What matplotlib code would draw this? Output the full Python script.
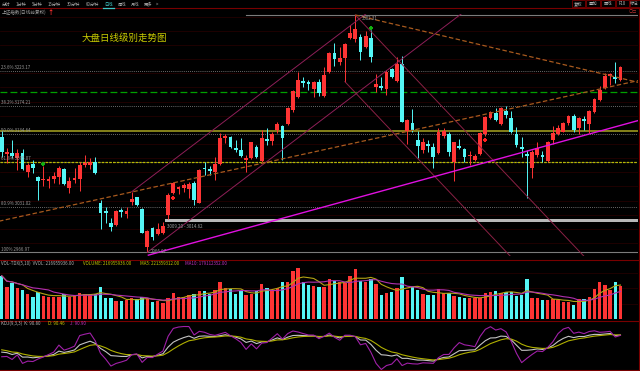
import numpy as np
import pandas as pd
import matplotlib
matplotlib.use("Agg")
import matplotlib.pyplot as plt
from matplotlib.patches import Rectangle

plt.rcParams['font.family'] = ['Noto Sans CJK SC', 'DejaVu Sans']

# ---- daily candles of the index ----
opens = [3130.3, 3105.9, 3107.7, 3099.8, 3106.9, 3080.9, 3091.8, 3073.0, 3068.7, 3068.2,
         3071.0, 3073.8, 3084.3, 3057.4, 3069.2, 3070.6, 3090.4, 3090.4, 3095.0, 3037.1,
         3025.8, 3008.8, 3005.6, 3026.8, 3021.1, 3038.5, 3044.7, 3027.8, 2974.9, 3000.9,
         2992.4, 2993.8, 3019.7, 3051.2, 3056.4, 3058.3, 3056.4, 3064.5, 3037.1, 3085.7,
         3084.3, 3080.9, 3091.3, 3128.1, 3130.3, 3114.0, 3111.5, 3097.4, 3100.7, 3116.2,
         3096.4, 3127.1, 3124.3, 3139.8, 3145.9, 3148.3, 3168.1, 3186.9, 3209.5, 3207.2,
         3197.7, 3207.2, 3188.3, 3221.3, 3248.2, 3236.3, 3241.1, 3269.4, 3268.4, 3271.6,
         3256.7, 3270.2, 3201.0, 3202.4, 3197.7, 3226.0, 3209.0, 3233.1, 3138.4, 3149.3,
         3125.7, 3111.5, 3120.0, 3115.4, 3106.9, 3131.8, 3134.2, 3095.0, 3117.2, 3113.0,
         3102.4, 3097.0, 3105.5, 3133.7, 3157.2, 3163.4, 3147.9, 3166.7, 3156.3, 3133.7,
         3115.8, 3105.5, 3086.5, 3104.5, 3104.5, 3096.0, 3125.7, 3133.7, 3137.4, 3149.3,
         3160.0, 3143.1, 3154.9, 3147.9, 3164.8, 3182.2, 3198.7, 3216.1, 3215.1, 3210.5]
closes = [3109.1, 3109.1, 3103.1, 3107.7, 3084.3, 3090.4, 3085.7, 3068.2, 3070.1, 3070.6,
          3074.8, 3085.7, 3063.1, 3068.2, 3071.6, 3090.4, 3092.8, 3095.0, 3078.6, 3022.1,
          3023.0, 3003.2, 3025.4, 3023.5, 3025.8, 3042.3, 3033.8, 2994.7, 2997.5, 2988.6,
          2999.5, 3004.2, 3048.0, 3065.3, 3058.8, 3061.7, 3063.5, 3040.9, 3083.3, 3084.3,
          3082.3, 3091.3, 3128.1, 3131.8, 3116.2, 3111.5, 3103.5, 3100.7, 3122.4, 3102.1,
          3128.1, 3124.3, 3133.7, 3147.9, 3128.1, 3171.3, 3194.9, 3210.5, 3206.6, 3204.8,
          3208.1, 3191.7, 3217.5, 3248.2, 3240.1, 3242.0, 3260.9, 3276.4, 3282.5, 3250.4,
          3273.1, 3243.4, 3204.8, 3199.6, 3221.3, 3215.1, 3232.6, 3151.5, 3153.9, 3139.8,
          3117.6, 3123.3, 3117.6, 3102.1, 3136.6, 3138.4, 3109.1, 3122.4, 3114.8, 3102.1,
          3104.5, 3103.5, 3135.1, 3158.6, 3164.8, 3153.9, 3170.5, 3161.0, 3136.6, 3118.6,
          3112.5, 3103.1, 3108.3, 3114.0, 3101.2, 3122.4, 3135.1, 3142.2, 3149.3, 3159.6,
          3139.8, 3157.2, 3152.5, 3166.7, 3183.6, 3196.3, 3216.5, 3218.5, 3211.9, 3229.3]
highs = [3138.8, 3114.4, 3125.7, 3112.5, 3112.5, 3093.2, 3097.4, 3074.8, 3088.9, 3075.2,
         3080.9, 3088.9, 3085.7, 3073.0, 3085.7, 3095.0, 3104.5, 3099.8, 3101.2, 3040.9,
         3030.6, 3015.0, 3026.8, 3029.2, 3030.6, 3052.6, 3045.6, 3029.2, 2998.5, 3002.7,
         3008.0, 3009.2, 3050.8, 3066.8, 3060.7, 3064.5, 3066.8, 3068.2, 3084.3, 3095.0,
         3088.9, 3101.2, 3135.1, 3133.7, 3131.8, 3125.7, 3128.1, 3104.5, 3123.3, 3118.6,
         3139.8, 3142.2, 3137.4, 3151.5, 3146.9, 3172.7, 3196.3, 3222.2, 3215.1, 3210.5,
         3209.0, 3211.9, 3229.3, 3249.6, 3262.3, 3257.5, 3262.3, 3288.2, 3302.31, 3275.0,
         3279.7, 3281.1, 3218.9, 3215.1, 3224.6, 3227.8, 3243.4, 3244.8, 3155.4, 3169.5,
         3138.4, 3128.1, 3125.7, 3121.0, 3142.2, 3143.1, 3137.4, 3123.3, 3127.1, 3114.8,
         3110.1, 3105.5, 3136.6, 3159.6, 3166.7, 3171.3, 3172.7, 3174.1, 3166.7, 3144.5,
         3130.3, 3111.5, 3111.5, 3122.4, 3110.1, 3124.3, 3145.9, 3146.9, 3150.7, 3161.0,
         3162.0, 3158.6, 3160.0, 3168.1, 3185.4, 3202.4, 3219.9, 3219.9, 3236.3, 3230.7]
lows = [3102.1, 3093.2, 3099.8, 3083.3, 3083.3, 3073.8, 3079.5, 3040.9, 3060.7, 3057.4,
        3064.9, 3063.5, 3062.1, 3050.4, 3064.5, 3054.0, 3088.0, 3084.3, 3077.6, 2999.5,
        3008.8, 2997.5, 3004.2, 3016.5, 3015.0, 3033.8, 3032.4, 2993.8, 2966.97, 2984.4,
        2991.4, 2992.9, 3014.6, 3050.1, 3049.4, 3052.6, 3043.3, 3033.8, 3036.2, 3076.2,
        3076.2, 3069.2, 3090.4, 3121.0, 3114.8, 3109.1, 3102.1, 3080.9, 3098.8, 3099.8,
        3095.0, 3118.6, 3118.6, 3135.1, 3097.4, 3146.9, 3165.7, 3185.4, 3201.0, 3196.3,
        3186.9, 3188.3, 3186.9, 3219.9, 3230.7, 3231.7, 3208.1, 3268.4, 3264.6, 3238.7,
        3255.3, 3235.5, 3193.9, 3196.3, 3189.3, 3212.9, 3208.1, 3150.7, 3119.6, 3137.4,
        3100.7, 3106.9, 3109.1, 3085.7, 3105.5, 3128.1, 3103.5, 3067.7, 3113.0, 3094.2,
        3090.4, 3096.0, 3104.5, 3131.8, 3155.4, 3152.5, 3146.9, 3156.3, 3135.1, 3116.2,
        3102.1, 3043.3, 3072.4, 3102.1, 3095.0, 3095.0, 3119.6, 3132.7, 3136.6, 3146.9,
        3136.6, 3133.7, 3139.8, 3135.1, 3163.4, 3180.8, 3197.7, 3203.4, 3205.8, 3209.0]
# volume in units of 1e8
volumes = [2.82, 2.10, 2.32, 2.00, 1.89, 1.61, 1.45, 1.74, 1.52, 1.45,
           1.45, 1.45, 1.61, 1.45, 1.56, 1.71, 1.61, 1.61, 1.61, 2.06,
           1.39, 1.39, 1.17, 1.17, 1.24, 1.39, 1.28, 1.45, 1.28, 1.09,
           1.17, 1.02, 1.39, 1.71, 1.45, 1.45, 1.56, 1.61, 1.82, 1.82,
           1.61, 1.89, 2.43, 2.00, 1.93, 1.61, 1.82, 1.56, 1.61, 1.82,
           2.26, 2.00, 1.89, 2.00, 2.43, 2.43, 3.12, 3.30, 2.39, 2.21,
           2.17, 2.10, 2.10, 2.60, 2.50, 2.39, 2.32, 2.82, 3.26, 2.47,
           2.39, 2.60, 2.26, 1.56, 1.67, 1.74, 2.04, 2.76, 1.89, 2.06,
           1.89, 1.61, 1.56, 1.56, 1.93, 1.67, 1.67, 1.52, 1.41, 1.39,
           1.35, 1.35, 1.39, 1.67, 1.74, 1.84, 1.71, 1.78, 1.78, 1.52,
           1.56, 2.60, 1.35, 1.35, 1.24, 1.24, 1.30, 1.24, 1.13, 1.13,
           0.91, 1.30, 1.30, 1.45, 1.95, 2.39, 2.21, 1.89, 2.39, 2.17]

# fibonacci retracement from the swing high / low
fib_high = 3302.31
fib_low = 2966.97
fib_levels = [0.0, 0.236, 0.382, 0.5, 0.618, 0.809, 1.0]

# drawing tools: (bar index, price) anchors
up_channel = [(28, 2966.97), (88.1, 3302.3)]
up_channel_top_anchor = 25          # parallel line through this bar's high
down_channel = [(68, 3302.31), (112, 2961.3)]
down_channel_low_anchor = 66        # parallel line through this bar's low
orange_up = [(0, 3011.8), (119, 3204.1)]
orange_down = [(68, 3302.31), (119, 3213.1)]
magenta_line = [(28.2, 2963.0), (119, 3146.3)]
gap_band = (31.4, 3009.20, 3014.62)
green_level = 3193.9
olive_level = 3138.8
yellow_level = 3094.6
buy_marks = [33, 93]
sell_marks = [8, 71]

RED = '#ff3434'
CYAN = '#54f6f6'

opens, closes = np.array(opens), np.array(closes)
highs, lows = np.array(highs), np.array(lows)
volumes = np.array(volumes)
n = len(closes)
idx = np.arange(n)
up = closes >= opens
colors = np.where(up, RED, CYAN)

W, H = 640, 371
fig = plt.figure(figsize=(6.4, 3.71), dpi=100, facecolor='black')


def rect(x0, y0, x1, y1):
    return [x0 / W, 1 - y1 / H, (x1 - x0) / W, (y1 - y0) / H]


xlim = (-0.33, 122.37)
ax = fig.add_axes(rect(0, 14, 638, 256))
axv = fig.add_axes(rect(0, 260, 638, 320))
axk = fig.add_axes(rect(0, 321, 638, 370))
for a in (ax, axv, axk):
    a.set_xlim(*xlim)
    a.axis('off')
ax.set_ylim(2961.8, 3303.7)

# faint grid
for p in np.arange(2980, 3301, 20):
    ax.axhline(p, color='#2a0000', lw=0.5, zorder=0)

# fibonacci lines
rng = fib_high - fib_low
for lv in fib_levels:
    p = fib_high - lv * rng
    if lv in (0.0, 1.0):
        x0 = 47 if lv == 0.0 else xlim[0]
        ax.plot([x0, xlim[1]], [p, p], color='#7c7c7c', lw=0.8, zorder=1)
    else:
        ax.axhline(p, color='#8c8c8c', lw=0.6, ls=(0, (1, 1.5)), zorder=1)
    if lv > 0:
        pct = '100%' if lv == 1.0 else f'{lv * 100:.1f}%'
        ax.text(xlim[0] + 0.25, p + 1.0, f'{pct} {p:.2f}', color='#9a9a9a',
                fontsize=3.2, va='bottom', ha='left', zorder=6)

ax.axhline(green_level, color='#00a000', lw=0.9, ls=(0, (5.5, 2.5)), zorder=1)
ax.axhline(olive_level, color='#8e8c1c', lw=1.3, zorder=1)
ax.axhline(yellow_level, color='#b8b800', lw=0.9, ls=(0, (2, 1)), zorder=1)

# gap band
gx, glo, ghi = gap_band
ax.fill_between([gx, xlim[1]], glo, ghi, color='#b8b8b8', lw=0, zorder=2)
ax.text(gx + 0.4, glo - 2.5, f'{glo:.2f} - {ghi:.2f}', color='#a0a0a0',
        fontsize=3.2, va='top', ha='left', zorder=6)


def line_through(p0, p1, start, **kw):
    slope = (p1[1] - p0[1]) / (p1[0] - p0[0])
    xs = np.array([start, xlim[1] + 1])
    ax.plot(xs, p0[1] + slope * (xs - p0[0]), **kw)
    return slope


def parallel(slope, anchor, **kw):
    xs = np.array([anchor[0], xlim[1] + 1])
    ax.plot(xs, anchor[1] + slope * (xs - anchor[0]), **kw)


chan_kw = dict(color='#8e1f58', lw=0.7, zorder=5)
s = line_through(*up_channel, up_channel[0][0], **chan_kw)
parallel(s, (up_channel_top_anchor, highs[up_channel_top_anchor]), **chan_kw)
dchan_kw = dict(color='#8a2145', lw=0.7, zorder=5)
s = line_through(*down_channel, down_channel[0][0], **dchan_kw)
parallel(s, (down_channel_low_anchor, lows[down_channel_low_anchor]), **dchan_kw)

orange_kw = dict(color='#a85a1e', lw=0.9, ls=(0, (3.6, 1.9)), zorder=5)
line_through(*orange_up, xlim[0] - 1, **orange_kw)
line_through(*orange_down, orange_down[0][0], **orange_kw)
line_through(*magenta_line, magenta_line[0][0], color='#e010e0', lw=1.0, zorder=5)

# candles
ax.vlines(idx, lows, highs, colors=colors, lw=0.7, zorder=3)
body_bottom = np.minimum(opens, closes)
body_h = np.maximum(np.abs(closes - opens), 0.9)
ax.bar(idx, body_h, bottom=body_bottom, width=0.74, color=colors, linewidth=0, zorder=4)

# signal markers
ax.scatter(np.array(sell_marks), highs[sell_marks] + 3, marker='P', s=7,
           color='#10b010', lw=0, zorder=6)
ax.scatter(np.array(buy_marks), lows[buy_marks] - 6, marker='P', s=7,
           color='#ff2020', lw=0, zorder=6)

peak = int(np.argmax(highs))
trough = int(np.argmin(lows))
ax.text(peak + 1.2, highs[peak] - 5, f'{highs[peak]:.2f}', color='#a0a0a0',
        fontsize=3.2, va='center', ha='left', zorder=6)
ax.text(trough + 0.6, lows[trough] + 1, f'{lows[trough]:.2f}', color='#a0a0a0',
        fontsize=3.2, va='center', ha='left', zorder=6)

# volume panel
axv.set_ylim(-0.065, 3.84)
for p in (1.0, 2.0, 3.0):
    axv.axhline(p, color='#2a0000', lw=0.5, zorder=0)
axv.bar(idx, volumes, width=0.68, color=colors, linewidth=0, zorder=2)
vs = pd.Series(volumes)
axv.plot(idx, vs.rolling(5, min_periods=1).mean(), color='#b4a414', lw=0.8, zorder=3)
axv.plot(idx, vs.rolling(10, min_periods=1).mean(), color='#b030b0', lw=0.8, zorder=3)

# KDJ panel
hs, ls_ = pd.Series(highs), pd.Series(lows)
hhv = hs.rolling(9, min_periods=1).max().values
llv = ls_.rolling(9, min_periods=1).min().values
rsv = (closes - llv) / (hhv - llv) * 100
K = np.zeros(n)
D = np.zeros(n)
k_prev, d_prev = 50.0, 50.0
for t in range(n):
    k_prev = 2 / 3 * k_prev + rsv[t] / 3
    d_prev = 2 / 3 * d_prev + k_prev / 3
    K[t], D[t] = k_prev, d_prev
J = 3 * K - 2 * D
lo, hi = min(J.min(), K.min()), max(J.max(), K.max())
sc = (hi - lo) / 43
axk.set_ylim(lo - 0.5 * sc, hi + 5.5 * sc)
axk.plot(idx, K, color='#c4c4c4', lw=0.8, zorder=3)
axk.plot(idx, D, color='#b0b000', lw=0.8, zorder=3)
axk.plot(idx, J, color='#a020a8', lw=0.8, zorder=3)

# overlay: toolbar, titles, separators (pixel coordinates)
ov = fig.add_axes([0, 0, 1, 1])
ov.set_xlim(0, W)
ov.set_ylim(H, 0)
ov.axis('off')
ov.patch.set_alpha(0)

sep = '#780000'
ov.plot([0, W], [7.5, 7.5], color=sep, lw=0.8)
for y in (260, 320.5, 370):
    ov.plot([0, 638.5], [y, y], color=sep, lw=0.8)
ov.plot([638.5, 638.5], [7.5, 371], color=sep, lw=0.8)

tabs = ["分时", "1分钟", "5分钟", "15分钟", "30分钟", "60分钟", "日线", "周线", "月线", "更多", ">"]
tab_x = [6, 21, 37, 54, 74, 92, 108.5, 121.7, 135, 148, 157.5]
for t, x in zip(tabs, tab_x):
    c = '#40c8c8' if t == "日线" else '#a8a8a8'
    ov.text(x, 4.0, t, color=c, fontsize=3.1, ha='center', va='center')
ov.plot([103, 114], [7.5, 7.5], color='#40c8c8', lw=0.9)

btn_edges = [571.5, 585.5, 601, 616, 630, 646]
btn_labels = ["复权", "叠加", "画线", "F10", "标记"]
for i, lab in enumerate(btn_labels):
    x0, x1 = btn_edges[i], btn_edges[i + 1]
    ov.add_patch(Rectangle((x0, 0.3), x1 - x0 - 1, 7.0, fill=False, edgecolor=sep, lw=0.6))
    cx = min((x0 + x1 - 1) / 2, 634.5)
    ov.text(cx, 3.9, lab, color='#b4b4b4', fontsize=3.1, ha='center', va='center')
ov.text(629, 12, "○□", color='#b03030', fontsize=3, ha='left', va='center')

ov.text(1.5, 12, "上证指数(日线前复权)", color='#a0a0a0', fontsize=3.3, ha='left', va='center')
ov.text(51, 11.3, "↑", color='#ff3030', fontsize=4.5, ha='center', va='center', fontweight='bold')
ov.text(81.5, 37.5, "大盘日线级别走势图", color='#cccc00', fontsize=6.8, ha='left', va='center')

vol_title = [("VOL-TDX(5,10)  VVOL: 216955936.00", 1, '#b4b4b4'),
             ("VOLUME: 216955936.00", 83, '#c8c800'),
             ("MA5: 221359312.00", 139.5, '#c8c800'),
             ("MA10: 179112352.00", 185, '#c030c0')]
for t, x, c in vol_title:
    ov.text(x, 263.6, t, color=c, fontsize=3.2, ha='left', va='center')

kdj_title = [("KDJ(9,3,3)  K: 90.80", 1, '#b4b4b4'),
             ("D: 90.46", 48, '#c8c800'),
             ("J: 90.90", 70, '#c030c0')]
for t, x, c in kdj_title:
    ov.text(x, 323.6, t, color=c, fontsize=3.2, ha='left', va='center')

fig.savefig('out.png', dpi=100, facecolor='black')
